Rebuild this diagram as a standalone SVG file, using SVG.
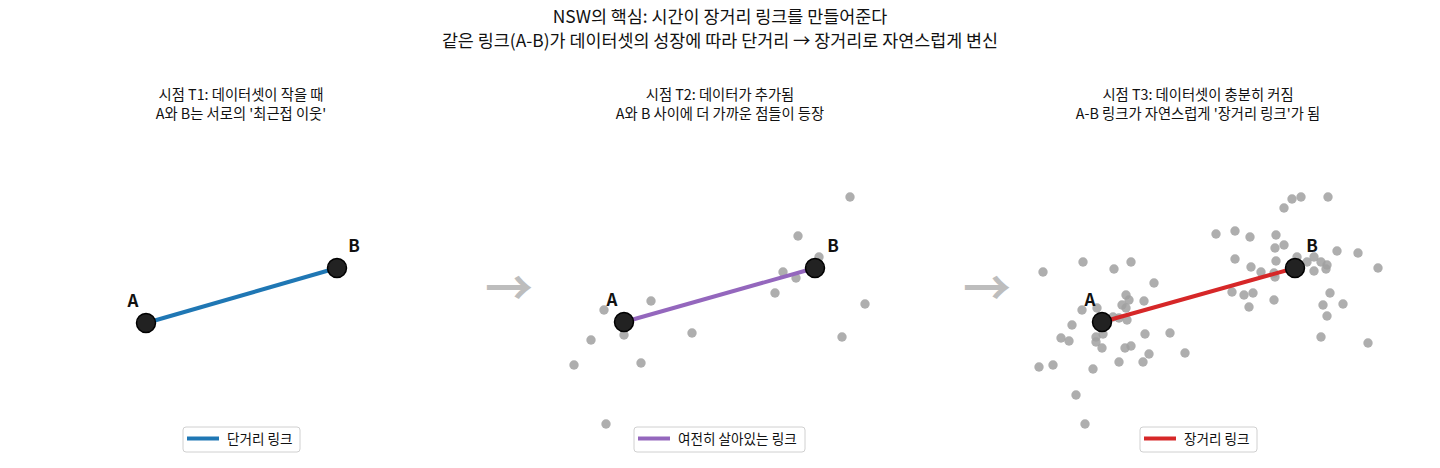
<svg xmlns="http://www.w3.org/2000/svg" width="1440" height="468" viewBox="0 0 1440 468">
<style>
text{font-family:"Noto Sans CJK KR","Noto Sans",sans-serif;fill:#111}
.t1{font-size:17.4px}
.t2{font-size:14.3px}
.lbl{font-size:17px;font-weight:bold}
.leg{font-size:13.6px}
.pt{fill:#a0a0a0;fill-opacity:0.85}
.node{fill:#222;stroke:#000;stroke-width:1.5}
.box{fill:#fff;stroke:#d0d0d0;stroke-width:1}
.arr{font-size:48px;fill:#bdbdbd;font-weight:bold}
</style>
<rect width="1440" height="468" fill="#fff"/>
<g id="title">
<text class="t1" x="720" y="22.5" text-anchor="middle">NSW의 핵심: 시간이 장거리 링크를 만들어준다</text>
<text class="t1" x="720" y="46.5" text-anchor="middle">같은 링크(A-B)가 데이터셋의 성장에 따라 단거리 → 장거리로 자연스럽게 변신</text>
</g>
<g id="subtitles">
<text class="t2" x="241" y="100" text-anchor="middle">시점 T1: 데이터셋이 작을 때</text>
<text class="t2" x="241" y="119" text-anchor="middle">A와 B는 서로의 '최근접 이웃'</text>
<text class="t2" x="720" y="100" text-anchor="middle">시점 T2: 데이터가 추가됨</text>
<text class="t2" x="720" y="119" text-anchor="middle">A와 B 사이에 더 가까운 점들이 등장</text>
<text class="t2" x="1198" y="100" text-anchor="middle">시점 T3: 데이터셋이 충분히 커짐</text>
<text class="t2" x="1198" y="119" text-anchor="middle">A-B 링크가 자연스럽게 '장거리 링크'가 됨</text>
</g>
<g id="points-t2">
<circle class="pt" cx="850" cy="197" r="4.7"/><circle class="pt" cx="798" cy="236" r="4.7"/><circle class="pt" cx="819" cy="257" r="4.7"/><circle class="pt" cx="783" cy="272" r="4.7"/><circle class="pt" cx="796" cy="278" r="4.7"/><circle class="pt" cx="775" cy="293" r="4.7"/><circle class="pt" cx="865" cy="304" r="4.7"/><circle class="pt" cx="842" cy="337" r="4.7"/><circle class="pt" cx="651" cy="301" r="4.7"/><circle class="pt" cx="604" cy="310" r="4.7"/><circle class="pt" cx="624" cy="335" r="4.7"/><circle class="pt" cx="591" cy="340" r="4.7"/><circle class="pt" cx="692" cy="333" r="4.7"/><circle class="pt" cx="641" cy="363" r="4.7"/><circle class="pt" cx="574" cy="365" r="4.7"/><circle class="pt" cx="606" cy="424" r="4.7"/>
</g>
<g id="points-t3">
<circle class="pt" cx="1216" cy="234" r="4.7"/><circle class="pt" cx="1043" cy="272" r="4.7"/><circle class="pt" cx="1083" cy="262" r="4.7"/><circle class="pt" cx="1114" cy="269" r="4.7"/><circle class="pt" cx="1131" cy="262" r="4.7"/><circle class="pt" cx="1154" cy="283" r="4.7"/><circle class="pt" cx="1126" cy="295" r="4.7"/><circle class="pt" cx="1129" cy="300" r="4.7"/><circle class="pt" cx="1122" cy="305" r="4.7"/><circle class="pt" cx="1126" cy="308" r="4.7"/><circle class="pt" cx="1144" cy="301" r="4.7"/><circle class="pt" cx="1097" cy="308" r="4.7"/><circle class="pt" cx="1082" cy="310" r="4.7"/><circle class="pt" cx="1113" cy="317" r="4.7"/><circle class="pt" cx="1119" cy="318" r="4.7"/><circle class="pt" cx="1127" cy="320" r="4.7"/><circle class="pt" cx="1072" cy="325" r="4.7"/><circle class="pt" cx="1103" cy="334" r="4.7"/><circle class="pt" cx="1096" cy="337" r="4.7"/><circle class="pt" cx="1096" cy="342" r="4.7"/><circle class="pt" cx="1061" cy="338" r="4.7"/><circle class="pt" cx="1069" cy="341" r="4.7"/><circle class="pt" cx="1102" cy="348" r="4.7"/><circle class="pt" cx="1125" cy="348" r="4.7"/><circle class="pt" cx="1131" cy="346" r="4.7"/><circle class="pt" cx="1145" cy="334" r="4.7"/><circle class="pt" cx="1170" cy="333" r="4.7"/><circle class="pt" cx="1149" cy="354" r="4.7"/><circle class="pt" cx="1143" cy="362" r="4.7"/><circle class="pt" cx="1119" cy="362" r="4.7"/><circle class="pt" cx="1185" cy="353" r="4.7"/><circle class="pt" cx="1039" cy="367" r="4.7"/><circle class="pt" cx="1053" cy="365" r="4.7"/><circle class="pt" cx="1093" cy="369" r="4.7"/><circle class="pt" cx="1076" cy="395" r="4.7"/><circle class="pt" cx="1085" cy="424" r="4.7"/>
<circle class="pt" cx="1292" cy="199" r="4.7"/><circle class="pt" cx="1301" cy="197" r="4.7"/><circle class="pt" cx="1328" cy="197" r="4.7"/><circle class="pt" cx="1284" cy="208" r="4.7"/><circle class="pt" cx="1235" cy="231" r="4.7"/><circle class="pt" cx="1250" cy="237" r="4.7"/><circle class="pt" cx="1276" cy="235" r="4.7"/><circle class="pt" cx="1284" cy="245" r="4.7"/><circle class="pt" cx="1275" cy="248" r="4.7"/><circle class="pt" cx="1235" cy="259" r="4.7"/><circle class="pt" cx="1251" cy="267" r="4.7"/><circle class="pt" cx="1261" cy="272" r="4.7"/><circle class="pt" cx="1276" cy="261" r="4.7"/><circle class="pt" cx="1297" cy="257" r="4.7"/><circle class="pt" cx="1307" cy="262" r="4.7"/><circle class="pt" cx="1314" cy="257" r="4.7"/><circle class="pt" cx="1321" cy="262" r="4.7"/><circle class="pt" cx="1327" cy="265" r="4.7"/><circle class="pt" cx="1326" cy="269" r="4.7"/><circle class="pt" cx="1314" cy="271" r="4.7"/><circle class="pt" cx="1337" cy="251" r="4.7"/><circle class="pt" cx="1358" cy="253" r="4.7"/><circle class="pt" cx="1378" cy="268" r="4.7"/><circle class="pt" cx="1275" cy="277" r="4.7"/><circle class="pt" cx="1274" cy="273" r="4.7"/><circle class="pt" cx="1232" cy="292" r="4.7"/><circle class="pt" cx="1244" cy="295" r="4.7"/><circle class="pt" cx="1253" cy="293" r="4.7"/><circle class="pt" cx="1249" cy="307" r="4.7"/><circle class="pt" cx="1274" cy="300" r="4.7"/><circle class="pt" cx="1330" cy="293" r="4.7"/><circle class="pt" cx="1323" cy="305" r="4.7"/><circle class="pt" cx="1343" cy="304" r="4.7"/><circle class="pt" cx="1327" cy="316" r="4.7"/><circle class="pt" cx="1321" cy="337" r="4.7"/><circle class="pt" cx="1368" cy="343" r="4.7"/>
</g>
<g id="connectors">
<line x1="146" y1="323" x2="337" y2="268" stroke="#1f77b4" stroke-width="4"/>
<line x1="624" y1="322" x2="815" y2="268" stroke="#9467bd" stroke-width="4"/>
<line x1="1102" y1="322" x2="1295" y2="268" stroke="#d62728" stroke-width="4"/>
</g>
<g id="node-A1"><circle class="node" cx="146" cy="323" r="9.5"/><text class="lbl" x="133" y="307" text-anchor="middle">A</text></g>
<g id="node-B1"><circle class="node" cx="337" cy="268" r="9.5"/><text class="lbl" x="354" y="252" text-anchor="middle">B</text></g>
<g id="node-A2"><circle class="node" cx="624" cy="322" r="9.5"/><text class="lbl" x="612" y="306" text-anchor="middle">A</text></g>
<g id="node-B2"><circle class="node" cx="815" cy="268" r="9.5"/><text class="lbl" x="833" y="252" text-anchor="middle">B</text></g>
<g id="node-A3"><circle class="node" cx="1102" cy="322" r="9.5"/><text class="lbl" x="1090" y="306" text-anchor="middle">A</text></g>
<g id="node-B3"><circle class="node" cx="1295" cy="268" r="9.5"/><text class="lbl" x="1312" y="252" text-anchor="middle">B</text></g>
<g id="arrows">
<text class="arr" x="509" y="305" text-anchor="middle">→</text>
<text class="arr" x="987" y="305" text-anchor="middle">→</text>
</g>
<g id="legend-1"><rect class="box" x="183" y="427" width="117" height="25" rx="3"/><line x1="187" y1="438.5" x2="219" y2="438.5" stroke="#1f77b4" stroke-width="4"/><text class="leg" x="227" y="444">단거리 링크</text></g>
<g id="legend-2"><rect class="box" x="634" y="427" width="171" height="25" rx="3"/><line x1="638" y1="438.5" x2="670" y2="438.5" stroke="#9467bd" stroke-width="4"/><text class="leg" x="678" y="444">여전히 살아있는 링크</text></g>
<g id="legend-3"><rect class="box" x="1140" y="427" width="117" height="25" rx="3"/><line x1="1144" y1="438.5" x2="1176" y2="438.5" stroke="#d62728" stroke-width="4"/><text class="leg" x="1184" y="444">장거리 링크</text></g>
</svg>
